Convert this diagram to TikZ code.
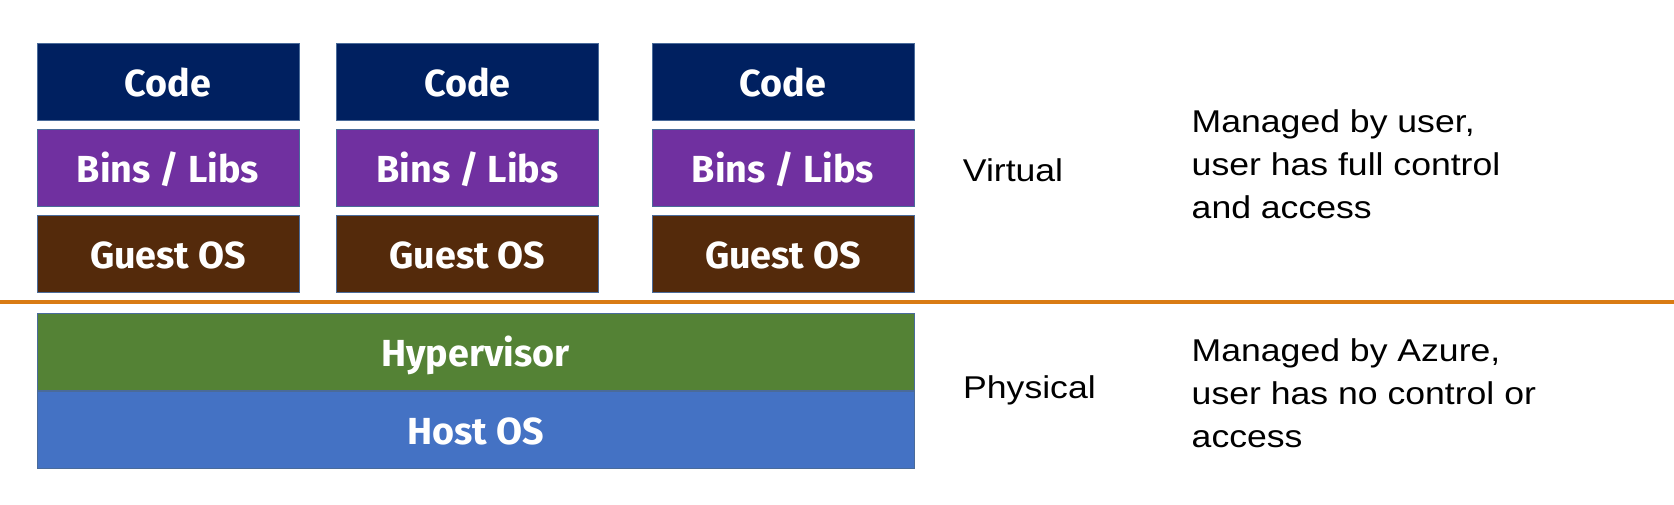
\documentclass[tikz,border=0pt]{standalone}
\usepackage{fontspec}
\setmainfont{Liberation Sans}
\newfontfamily\boxfont{Fira Sans}
\newfontfamily\labfont[FakeStretch=1.13]{Liberation Sans}
\definecolor{codeblue}{HTML}{002060}
\definecolor{binpurple}{HTML}{7030A0}
\definecolor{guestbrown}{HTML}{542A0B}
\definecolor{hypgreen}{HTML}{548235}
\definecolor{hostblue}{HTML}{4472C4}
\definecolor{edgeblue}{HTML}{4A6B9A}
\definecolor{divorange}{HTML}{D97B14}
\tikzset{
  layer/.style={draw=edgeblue, line width=0.8pt, inner sep=0pt,
    minimum height=77pt, text=white,
    font=\boxfont\bfseries\fontsize{37.7}{40}\selectfont,
    text height=30pt, text depth=0pt},
  colbox/.style={layer, minimum width=262pt},
  widebox/.style={layer, minimum width=877pt},
  lab/.style={anchor=base west, inner sep=0pt, font=\labfont\fontsize{31.5}{42.8}\selectfont},
  divider/.style={draw=divorange, line width=4pt}
}
\begin{document}
\begin{tikzpicture}[x=1pt,y=-1pt]
\useasboundingbox (0,0) rectangle (1674,504);
% columns
\foreach \cx/\n in {168/1,467.5/2,783/3}{
  \node[colbox, fill=codeblue] (code\n) at (\cx,81.5) {Code};
  \node[colbox, fill=binpurple] (bins\n) at (\cx,167.5) {Bins / Libs};
  \node[colbox, fill=guestbrown] (guest\n) at (\cx,253.5) {Guest OS};
}
\node[widebox, fill=hypgreen] (hyper) at (475.5,351.5) {Hypervisor};
\node[widebox, fill=hostblue] (host) at (475.5,429.5) {Host OS};
% divider
\coordinate (divL) at (0,302);
\coordinate (divR) at (1674,302);
\draw[divider] (divL) -- (divR);
% labels
\node[lab] (virtual) at (962.7,181.7) {Virtual};
\node[lab] (physical) at (963,398) {Physical};
\node[lab] (userdesc) at (1191.5,132.7) {\vtop{\baselineskip=42.8pt\hbox{Managed by user,}\hbox{user has full control}\hbox{and access}}};
\node[lab] (azuredesc) at (1191.5,361.7) {\vtop{\baselineskip=42.8pt\hbox{Managed by Azure,}\hbox{user has no control or}\hbox{access}}};
\end{tikzpicture}
\end{document}
